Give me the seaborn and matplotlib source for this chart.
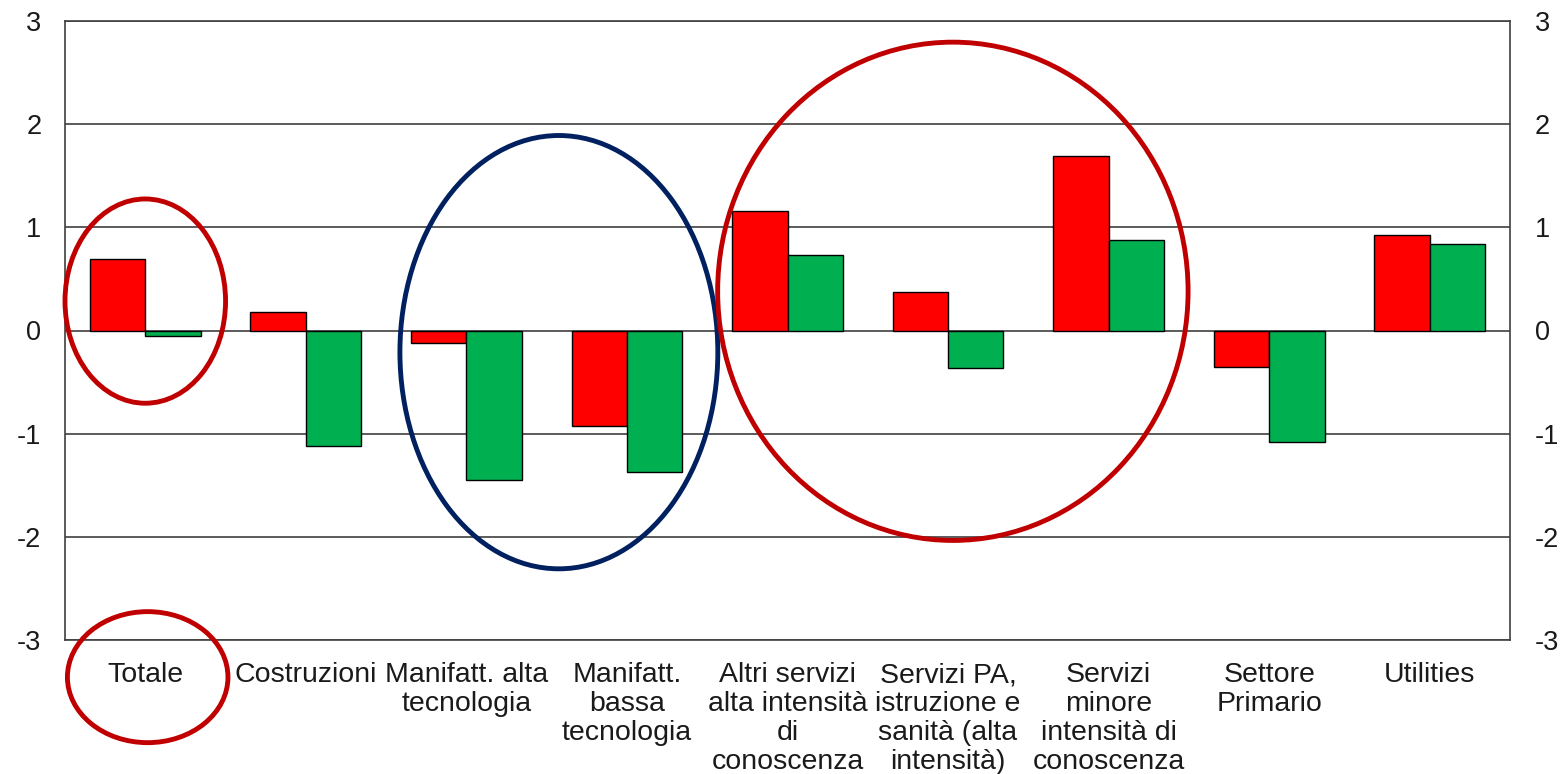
import matplotlib
matplotlib.use("Agg")
import matplotlib.pyplot as plt
import seaborn as sns
import pandas as pd
from matplotlib.patches import Ellipse

categories = [
    "Totale",
    "Costruzioni",
    "Manifatt. alta\ntecnologia",
    "Manifatt.\nbassa\ntecnologia",
    "Altri servizi\nalta intensità\ndi\nconoscenza",
    "Servizi PA,\nistruzione e\nsanità (alta\nintensità)",
    "Servizi\nminore\nintensità di\nconoscenza",
    "Settore\nPrimario",
    "Utilities",
]
series_names = ["Serie A", "Serie B"]
red_values = [0.69, 0.18, -0.12, -0.93, 1.16, 0.37, 1.69, -0.35, 0.93]
green_values = [-0.05, -1.12, -1.45, -1.37, 0.73, -0.36, 0.88, -1.08, 0.84]
y_ticks = [-3, -2, -1, 0, 1, 2, 3]

sns.set_theme(style="white")
plt.rcParams["font.family"] = ["Liberation Sans", "DejaVu Sans"]
plt.rcParams["axes.unicode_minus"] = False

df = pd.DataFrame({
    "categoria": categories * 2,
    "serie": [series_names[0]] * len(categories) + [series_names[1]] * len(categories),
    "valore": red_values + green_values,
})

fig = plt.figure(figsize=(15.68, 7.74), dpi=100)
ax = fig.add_axes([65 / 1568, 1 - 640 / 774, 1445 / 1568, 619 / 774])

for y in y_ticks:
    ax.axhline(y, color="#404040", lw=1.2, zorder=0)

sns.barplot(data=df, x="categoria", y="valore", hue="serie", order=categories,
            palette=["#FF0000", "#00B050"], saturation=1, width=0.69,
            edgecolor="black", linewidth=1.0, legend=False, ax=ax, zorder=2)

ax.set_ylim(-3, 3)
ax.set_xlim(-0.5, len(categories) - 0.5)
ax.set_yticks(y_ticks)
ax.set_yticklabels([str(t) for t in y_ticks], fontsize=19.5, color="#1a1a1a")
ax.set_xlabel("")
ax.set_ylabel("")
ax.tick_params(axis="y", length=0, pad=17)
ax.tick_params(axis="x", length=0, pad=16, labelsize=20.5, labelcolor="#1a1a1a")
for lbl in ax.get_xticklabels():
    lbl.set_linespacing(1.15)
for s in ax.spines.values():
    s.set_visible(True)
    s.set_color("#404040")
    s.set_linewidth(1.2)

ax2 = ax.twinx()
ax2.set_ylim(-3, 3)
ax2.set_yticks(y_ticks)
ax2.set_yticklabels([str(t) for t in y_ticks], fontsize=19.5, color="#1a1a1a")
ax2.tick_params(axis="y", length=0, pad=18)
for s in ax2.spines.values():
    s.set_visible(False)
ax2.grid(False)

# annotation ellipses
ellipses = [
    ((0.0, 0.285), 1.0, 1.98, "#C00000"),
    ((0.015, -3.36), 1.0, 1.27, "#C00000"),
    ((2.576, -0.21), 1.98, 4.2, "#002060"),
    ((5.03, 0.38), 2.93, 4.83, "#C00000"),
]
for center, w, h, col in ellipses:
    e = Ellipse(center, w, h, fill=False, edgecolor=col, linewidth=3.5, clip_on=False, zorder=5)
    ax.add_patch(e)

fig.savefig("out.png", dpi=100)
